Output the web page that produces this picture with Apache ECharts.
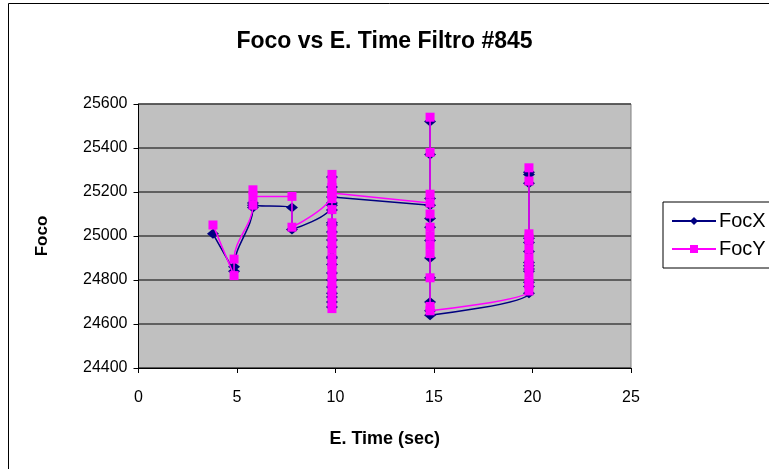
<!DOCTYPE html>
<html>
<head>
<meta charset="utf-8">
<script src="https://cdn.jsdelivr.net/npm/echarts@6/dist/echarts.min.js"></script>
<style>
  html, body { margin: 0; padding: 0; background: #fff; }
  #chart { width: 769px; height: 469px; }
</style>
</head>
<body>
<div id="chart"></div>
<script>
// Exposure time (sec) for each reading, in acquisition order
const eTime = [
  3.78,
  4.85, 4.85,
  5.81, 5.81, 5.81,
  7.79, 7.79,
  9.82, 9.82, 9.82, 9.82, 9.82, 9.82, 9.82, 9.82, 9.82, 9.82,
  9.82, 9.82, 9.82, 9.82, 9.82, 9.82, 9.82, 9.82, 9.82, 9.82, 9.82,
  14.8, 14.8, 14.8, 14.8, 14.8, 14.8, 14.8, 14.8, 14.8, 14.8, 14.8, 14.8,
  19.82, 19.82, 19.82, 19.82, 19.82, 19.82, 19.82, 19.82, 19.82, 19.82, 19.82, 19.82, 19.82
];

// Focus position along X
const focX = [
  25010,
  24840, 24860,
  25130, 25150, 25140,
  25130, 25030,
  25140, 25268, 25223, 25118, 25050, 25018, 24982, 24950, 24905, 24870,
  24832, 24800, 24768, 24740, 24723, 24700, 24677, 24900, 25060, 25150, 25177,
  25140, 25520, 25370, 25170, 25080, 25040, 24980, 24900, 24810, 24700, 24660, 24640,
  24740, 24790, 24840, 24880, 24930, 24970, 25240, 25290, 25280, 24990, 24770, 24850, 24865
];

// Focus position along Y
const focY = [
  25050,
  24820, 24895,
  25140, 25210, 25180,
  25180, 25040,
  25190, 25250, 25280, 25220, 25170, 25120, 25060, 25030, 25000, 24970,
  24940, 24900, 24870, 24850, 24820, 24790, 24760, 24730, 24700, 24670, 25195,
  25150, 25540, 25380, 25190, 25100, 25040, 25000, 24960, 24920, 24810, 24680, 24660,
  24750, 24790, 24830, 24870, 24900, 24940, 24980, 25010, 25250, 25310, 24990, 24780, 24860
];

// Axis ticks
const xTicks = [0, 5, 10, 15, 20, 25];
const yTicks = [24400, 24600, 24800, 25000, 25200, 25400, 25600];

const pairs = (ys) => eTime.map((t, i) => [t, ys[i]]);

const FONT = '"Liberation Sans", Arial, sans-serif';

const chart = echarts.init(document.getElementById('chart'), null, { renderer: 'canvas' });

chart.setOption({
  animation: false,
  backgroundColor: '#ffffff',
  title: {
    text: 'Foco vs E. Time Filtro #845',
    left: 'center',
    top: 25,
    textStyle: { fontFamily: FONT, fontSize: 23, fontWeight: 'bold', color: '#000' }
  },
  graphic: [
    {
      type: 'rect',
      shape: { x: 8.5, y: 3.5, width: 800, height: 500 },
      style: { fill: 'none', stroke: '#000', lineWidth: 1 },
      silent: true, z: -1
    }
  ],
  legend: {
    orient: 'vertical',
    left: 663,
    top: 202,
    itemGap: 8,
    itemWidth: 44,
    itemHeight: 10,
    padding: [9, 6, 9, 8],
    borderColor: '#000',
    borderWidth: 1,
    backgroundColor: '#fff',
    textStyle: { fontFamily: FONT, fontSize: 20, color: '#000', padding: [0, 0, 0, -2] },
    data: ['FocX', 'FocY']
  },
  grid: {
    left: 138.5, top: 104, width: 492.5, height: 264,
    show: true,
    backgroundColor: '#c0c0c0',
    borderColor: '#808080',
    borderWidth: 1
  },
  xAxis: {
    type: 'value',
    min: xTicks[0], max: xTicks[xTicks.length - 1], interval: 5,
    name: 'E. Time (sec)',
    nameLocation: 'middle',
    nameGap: 62,
    nameTextStyle: { fontFamily: FONT, fontSize: 18, fontWeight: 'bold', color: '#000' },
    axisLine: { lineStyle: { color: '#000', width: 1 } },
    axisTick: { inside: false, length: 5, lineStyle: { color: '#000' } },
    axisLabel: { fontFamily: FONT, fontSize: 16, color: '#000', margin: 22 },
    splitLine: { show: false }
  },
  yAxis: {
    type: 'value',
    min: yTicks[0], max: yTicks[yTicks.length - 1], interval: 200,
    name: 'Foco',
    nameLocation: 'middle',
    nameGap: 88,
    nameRotate: 90,
    nameTextStyle: { fontFamily: FONT, fontSize: 17, fontWeight: 'bold', color: '#000' },
    axisLine: { show: true, lineStyle: { color: '#000', width: 1 } },
    axisTick: { show: true, inside: false, length: 5, lineStyle: { color: '#000' } },
    axisLabel: { fontFamily: FONT, fontSize: 16, color: '#000', margin: 11, formatter: (v) => String(v) },
    splitLine: { show: true, lineStyle: { color: '#404040', width: 1.5 } }
  },
  series: [
    {
      name: 'FocX',
      type: 'line',
      data: pairs(focX),
      smooth: 0.35,
      symbol: 'diamond',
      symbolSize: [12, 10],
      showAllSymbol: true,
      color: '#000080',
      lineStyle: { color: '#000080', width: 1.5 },
      itemStyle: { color: '#000080' },
      z: 2
    },
    {
      name: 'FocY',
      type: 'line',
      data: pairs(focY),
      smooth: 0.35,
      symbol: 'rect',
      symbolSize: 9,
      showAllSymbol: true,
      color: '#ff00ff',
      lineStyle: { color: '#ff00ff', width: 1.5 },
      itemStyle: { color: '#ff00ff' },
      z: 3
    }
  ]
});
</script>
</body>
</html>
